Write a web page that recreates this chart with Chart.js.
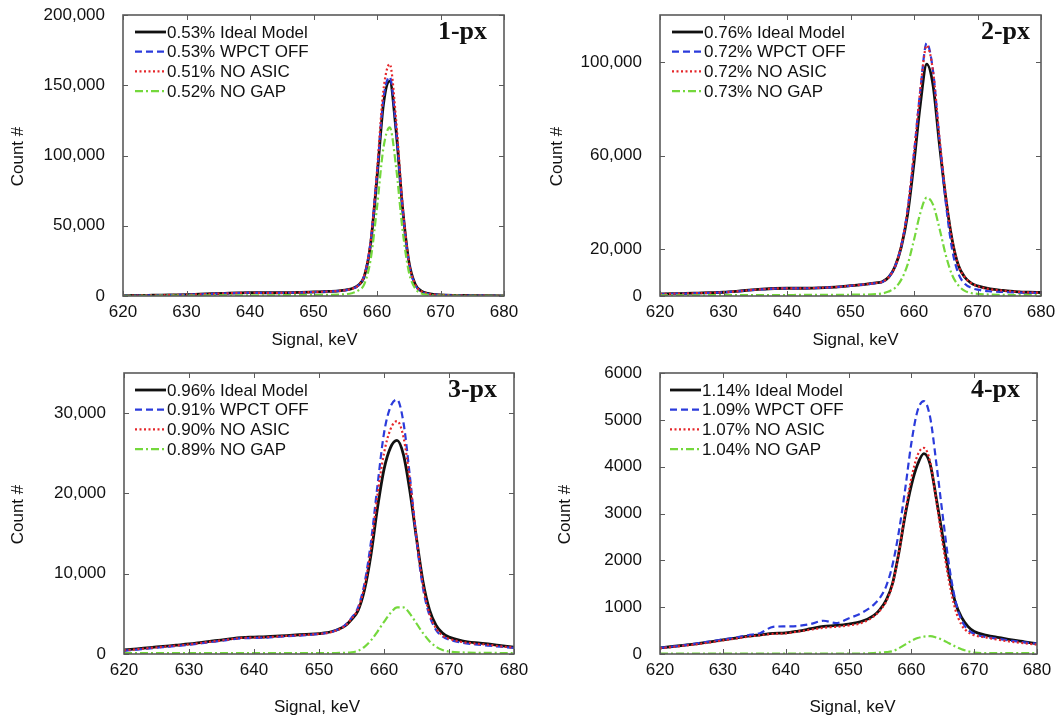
<!DOCTYPE html>
<html>
<head>
<meta charset="utf-8">
<script src="https://cdn.jsdelivr.net/npm/chart.js@4.4.1/dist/chart.umd.min.js"></script>
<style>
  html, body { margin: 0; padding: 0; background: #fff; }
  #wrap { position: relative; width: 1059px; height: 717px; overflow: hidden; background: #fff; }
  canvas { position: absolute; display: block; }
</style>
</head>
<body>
<div id="wrap">
  <canvas id="c1" width="530" height="358" style="left:0;top:0"></canvas>
  <canvas id="c2" width="529" height="358" style="left:530px;top:0"></canvas>
  <canvas id="c3" width="530" height="359" style="left:0;top:358px"></canvas>
  <canvas id="c4" width="529" height="359" style="left:530px;top:358px"></canvas>
</div>
<script>
// Energy bins (keV) shared by every spectrum
const energy = [620,622,624,626,628,630,632,634,636,638,640,642,644,646,648,650,652,654,
  655,656,657,658,659,660,661,662,663,664,665,666,667,668,669,670,
  672,674,676,678,680];

const seriesNames = ['Ideal Model', 'WPCT OFF', 'NO ASIC', 'NO GAP'];
const xTicks = [620, 630, 640, 650, 660, 670, 680];

// ---- 1-pixel events ----
const res1 = ['0.53%', '0.53%', '0.51%', '0.52%'];
const px1Ideal = [300,400,500,600,800,1000,1300,1600,1900,2200,2400,2300,2300,2400,2600,2900,3200,3700,
  4200,5200,7500,14000,37000,84000,136000,153000,118000,64000,25000,8500,3500,1800,1100,800,
  500,350,250,200,150];
const px1Wpct = [200,300,400,500,700,900,1200,1500,1800,2100,2300,2200,2200,2300,2500,2800,3100,3600,
  4100,5000,7300,14500,38500,87000,140000,156000,119000,63000,24000,8000,3200,1600,1000,700,
  450,300,220,180,130];
const px1Asic = [250,350,450,550,750,950,1250,1550,1850,2150,2350,2250,2250,2350,2550,2850,3150,3650,
  4150,5100,7400,14800,39000,89000,146000,165000,126000,66000,25000,8200,3300,1700,1000,750,
  480,320,230,190,140];
const px1Gap = [100,100,150,200,250,300,350,400,450,500,550,550,550,600,650,700,800,1000,
  1300,2000,3800,8500,26000,63000,105000,120000,92000,48000,17500,5500,1800,800,400,300,
  200,150,120,100,100];
const yTicks1 = [0, 50000, 100000, 150000, 200000];

// ---- 2-pixel events ----
const res2 = ['0.76%', '0.72%', '0.72%', '0.73%'];
const px2Ideal = [860,1000,1100,1250,1400,1600,2000,2500,2900,3200,3300,3300,3400,3600,3900,4400,4900,5600,
  6100,8000,12500,21000,35000,57000,82000,99000,90000,65000,42000,24000,13000,8000,5500,4300,
  3000,2400,1900,1600,1500];
const px2Wpct = [800,950,1050,1200,1350,1550,1950,2450,2850,3150,3250,3250,3350,3550,3850,4350,4850,5500,
  6000,8000,12500,21500,37000,61000,88000,108000,96000,67000,40000,20000,9500,5200,3500,2700,
  2000,1700,1500,1400,1300];
const px2Asic = [830,980,1080,1230,1380,1580,1980,2480,2880,3180,3280,3280,3380,3580,3880,4380,4880,5550,
  6050,8000,12500,21500,37000,61000,88000,107000,96000,68000,43000,24000,13000,8000,5500,4200,
  2900,2300,1850,1550,1450];
const px2Gap = [300,300,300,300,350,350,350,400,400,400,400,450,450,500,500,550,600,800,
  1100,1900,3400,7000,13500,24000,35500,42000,39000,29000,17500,9000,4500,2200,1300,900,
  600,500,400,400,400];
const yTicks2 = [0, 20000, 60000, 100000];

// ---- 3-pixel events ----
const res3 = ['0.96%', '0.91%', '0.90%', '0.89%'];
const px3Ideal = [500,650,800,950,1100,1250,1450,1650,1850,2050,2100,2150,2250,2350,2450,2550,2800,3500,
  4300,5400,8000,12400,18200,23000,25700,26600,24800,20200,14400,9000,5500,3600,2600,2100,
  1650,1400,1250,1050,850];
const px3Wpct = [400,550,700,850,1000,1150,1350,1550,1750,1950,2000,2050,2150,2250,2350,2500,2750,3600,
  4500,5800,8800,14000,21000,27500,30800,31700,28800,22000,14200,8200,4800,3000,2200,1800,
  1400,1200,1050,900,750];
const px3Asic = [450,600,750,900,1050,1200,1400,1600,1800,2000,2050,2100,2200,2300,2400,2500,2750,3500,
  4400,5600,8400,13200,19800,25000,28000,29000,27000,21500,14500,8600,5000,3200,2300,1900,
  1500,1300,1150,950,800];
const px3Gap = [100,100,100,100,100,100,100,100,100,100,100,100,100,100,100,100,120,150,
  200,400,900,1700,2800,4000,5100,5800,5800,5000,3800,2600,1600,900,500,300,
  200,150,150,120,100];
const yTicks3 = [0, 10000, 20000, 30000];

// ---- 4-pixel events ----
const res4 = ['1.14%', '1.09%', '1.07%', '1.04%'];
const px4Ideal = [130,160,190,220,260,300,340,380,410,440,450,490,540,590,610,640,690,820,
  950,1150,1500,2150,2950,3600,4050,4280,4050,3300,2500,1700,1100,780,590,480,
  400,350,300,260,220];
const px4Wpct = [130,160,190,230,270,310,350,400,450,580,590,600,640,710,660,760,870,1050,
  1200,1450,1900,2600,3500,4500,5200,5400,5050,4050,2950,1900,1150,720,520,430,
  360,320,280,250,220];
const px4Asic = [120,150,180,210,250,290,330,370,400,430,440,480,520,560,580,610,660,800,
  930,1120,1480,2150,3000,3750,4250,4400,4100,3250,2350,1550,950,620,470,400,
  350,300,260,230,200];
const px4Gap = [10,10,10,10,10,10,10,10,10,10,10,10,10,10,10,10,10,20,
  30,40,60,120,200,280,340,370,380,350,300,230,160,100,60,30,
  20,20,20,20,20];
const yTicks4 = [0, 1000, 2000, 3000, 4000, 5000, 6000];

// ---- styling ----
const SANS = "'Liberation Sans', Arial, sans-serif";
const SERIF = "'Liberation Serif', 'Times New Roman', serif";
const TEXT = '#111111';
const FRAME = '#5a5a5a';
const lineStyles = [
  { color: '#111111', width: 2.8, dash: [] },
  { color: '#2b3bdb', width: 2.2, dash: [7, 4] },
  { color: '#e5262a', width: 2.2, dash: [2, 2.5] },
  { color: '#74d83c', width: 2.2, dash: [8, 3, 2, 3] }
];

const withComma = v => v.toLocaleString('en-US');
const plain = v => String(v);

function toPoints(values) {
  return energy.map((e, i) => ({ x: e, y: values[i] }));
}

// Frame, inward tick marks, legend, panel tag and axis titles
const decorPlugin = {
  id: 'decor',
  afterDraw(chart) {
    const o = chart.options.plugins.decor;
    const { ctx, chartArea: a } = chart;
    const xs = chart.scales.x, ys = chart.scales.y;
    ctx.save();
    // tick marks pointing into the plot
    ctx.strokeStyle = FRAME;
    ctx.lineWidth = 1;
    const tl = 5;
    xs.ticks.forEach(t => {
      const px = Math.round(xs.getPixelForValue(t.value)) + 0.5;
      ctx.beginPath();
      ctx.moveTo(px, a.bottom); ctx.lineTo(px, a.bottom - tl);
      ctx.moveTo(px, a.top); ctx.lineTo(px, a.top + tl);
      ctx.stroke();
    });
    ys.ticks.forEach(t => {
      const py = Math.round(ys.getPixelForValue(t.value)) + 0.5;
      ctx.beginPath();
      ctx.moveTo(a.left, py); ctx.lineTo(a.left + tl, py);
      ctx.moveTo(a.right, py); ctx.lineTo(a.right - tl, py);
      ctx.stroke();
    });
    // frame
    ctx.lineWidth = 1.6;
    ctx.strokeStyle = FRAME;
    ctx.strokeRect(a.left, a.top, a.right - a.left, a.bottom - a.top);

    // legend
    ctx.font = '17px ' + SANS;
    ctx.textBaseline = 'middle';
    ctx.textAlign = 'left';
    chart.data.datasets.forEach((d, i) => {
      const y = a.top + 17 + i * 19.7;
      const x0 = a.left + o.legendDx;
      ctx.save();
      ctx.strokeStyle = d.borderColor;
      ctx.lineWidth = d.borderWidth;
      ctx.setLineDash(d.borderDash);
      ctx.beginPath();
      ctx.moveTo(x0, y); ctx.lineTo(x0 + 31, y);
      ctx.stroke();
      ctx.restore();
      ctx.fillStyle = TEXT;
      ctx.fillText(o.res[i] + ' ' + d.label, x0 + 32, y + 1);
    });

    // panel tag
    ctx.font = 'bold 26px ' + SERIF;
    ctx.textAlign = 'right';
    ctx.textBaseline = 'alphabetic';
    ctx.fillStyle = '#111';
    ctx.fillText(o.tag, a.right - o.tagDx, a.top + 24);

    // axis titles
    ctx.font = '17px ' + SANS;
    ctx.fillStyle = TEXT;
    ctx.textAlign = 'center';
    ctx.textBaseline = 'middle';
    ctx.fillText('Signal, keV', (a.left + a.right) / 2 + o.xTitleDx, a.bottom + o.xTitleDy);
    ctx.save();
    ctx.translate(o.yTitleX, (a.top + a.bottom) / 2 + 1);
    ctx.rotate(-Math.PI / 2);
    ctx.fillText('Count #', 0, 0);
    ctx.restore();
    ctx.restore();
  }
};

function makePanel(id, spec) {
  const datasets = spec.values.map((vals, i) => ({
    label: seriesNames[i],
    data: toPoints(vals),
    borderColor: lineStyles[i].color,
    borderWidth: lineStyles[i].width,
    borderDash: lineStyles[i].dash,
    pointRadius: 0,
    fill: false,
    cubicInterpolationMode: 'monotone',
    order: 3 - i
  }));
  const tickFont = { family: SANS, size: 17 };
  new Chart(document.getElementById(id), {
    type: 'line',
    data: { datasets },
    options: {
      responsive: false,
      animation: false,
      layout: { padding: { left: 0, top: spec.top, right: spec.right, bottom: 0 } },
      plugins: {
        legend: { display: false },
        tooltip: { enabled: false },
        decor: spec.decor
      },
      scales: {
        x: {
          type: 'linear', min: 620, max: 680,
          grid: { display: false, drawTicks: false },
          border: { display: false },
          ticks: { font: tickFont, color: TEXT, padding: 6, autoSkip: false, maxRotation: 0,
                    callback: plain },
          afterBuildTicks: s => { s.ticks = xTicks.map(v => ({ value: v })); },
          afterFit: s => { s.height = spec.xh; s.paddingLeft = 0; s.paddingRight = 0; }
        },
        y: {
          type: 'linear', min: 0, max: spec.yMax,
          grid: { display: false, drawTicks: false },
          border: { display: false },
          ticks: { font: tickFont, color: TEXT, padding: 18, callback: spec.fmt },
          afterBuildTicks: s => { s.ticks = spec.yTicks.map(v => ({ value: v })); },
          afterFit: s => { s.width = spec.yw; s.paddingTop = 0; s.paddingBottom = 0; }
        }
      }
    },
    plugins: [decorPlugin]
  });
}

makePanel('c1', {
  values: [px1Ideal, px1Wpct, px1Asic, px1Gap], yMax: 200000, yTicks: yTicks1, fmt: withComma,
  top: 15, right: 26, yw: 123, xh: 62,
  decor: { res: res1, tag: '1-px', legendDx: 12, tagDx: 17, xTitleDx: 1, xTitleDy: 44, yTitleX: 18 }
});
makePanel('c2', {
  values: [px2Ideal, px2Wpct, px2Asic, px2Gap], yMax: 120000, yTicks: yTicks2, fmt: withComma,
  top: 15, right: 18, yw: 130, xh: 62,
  decor: { res: res2, tag: '2-px', legendDx: 12, tagDx: 11, xTitleDx: 5, xTitleDy: 44, yTitleX: 27 }
});
makePanel('c3', {
  values: [px3Ideal, px3Wpct, px3Asic, px3Gap], yMax: 35000, yTicks: yTicks3, fmt: withComma,
  top: 15, right: 16, yw: 124, xh: 63,
  decor: { res: res3, tag: '3-px', legendDx: 11, tagDx: 17, xTitleDx: -2, xTitleDy: 53, yTitleX: 18 }
});
makePanel('c4', {
  values: [px4Ideal, px4Wpct, px4Asic, px4Gap], yMax: 6000, yTicks: yTicks4, fmt: plain,
  top: 15, right: 22, yw: 130, xh: 63,
  decor: { res: res4, tag: '4-px', legendDx: 10, tagDx: 17, xTitleDx: 4, xTitleDy: 53, yTitleX: 35 }
});
</script>
</body>
</html>
